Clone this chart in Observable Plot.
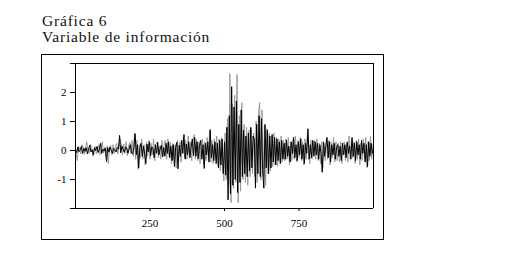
<!DOCTYPE html>
<html>
<head>
<meta charset="utf-8">
<script src="https://cdn.jsdelivr.net/npm/d3@7"></script>
<script src="https://cdn.jsdelivr.net/npm/@observablehq/plot@0.6"></script>
<style>
  html, body { margin: 0; padding: 0; background: #fff; }
  #wrap { position: relative; width: 512px; height: 274px; overflow: hidden; }
  #title { position: absolute; left: 42px; top: 13px; font-family: "Liberation Serif", serif; font-size: 15.5px; letter-spacing: 0.8px; line-height: 16px; color: #111; }
  #outer { position: absolute; left: 41px; top: 54px; width: 341px; height: 184px; border: 1px solid #000; }
  #chart { position: absolute; left: 0; top: 0; }
</style>
</head>
<body>
<div id="wrap">
  <div id="outer"></div>
  <div id="chart"></div>
  <div id="title">Gráfica 6<br>Variable de información</div>
</div>
<script>
// Black series, observations 0,4,8,...,1000
const blackVals = [
  0.05,-0.08,0.12,-0.04,0.02,0.15,-0.1,0.08,-0.03,0.1,-0.12,0.06,0.18,-0.05,0.03,-0.15,0.09,0.0,0.14,-0.07,0.05,0.25,-0.1,0.04,-0.02,
  0.08,-0.38,0.1,-0.06,0.12,0.0,-0.1,0.07,0.03,-0.05,0.1,0.05,0.52,-0.08,0.15,0.03,-0.06,0.12,0.08,-0.1,0.05,0.2,-0.08,-0.12,0.1,
  0.58,-0.15,0.2,-0.6,0.1,0.25,-0.2,0.15,-0.1,-0.45,0.22,-0.05,0.3,-0.18,0.12,0.08,-0.25,0.2,-0.1,0.28,-0.15,0.05,0.18,-0.22,0.1,
  -0.2,0.25,-0.1,0.3,-0.25,0.15,-0.35,0.2,-0.55,0.1,0.28,-0.63,0.18,-0.2,0.35,-0.1,0.55,-0.3,0.22,-0.15,0.3,-0.25,0.12,0.4,-0.18,
  0.45,-0.2,0.3,-0.28,0.15,0.35,-0.3,0.2,-0.62,0.25,-0.15,0.3,-0.4,0.72,-0.25,0.2,-0.35,0.3,-0.45,0.25,-0.6,0.35,-0.5,0.4,-0.8,
  0.3,-0.85,0.8,-1.7,1.2,-1.5,2.2,-1.2,1.5,-1.0,1.7,-1.45,0.9,-1.1,1.4,-0.9,0.7,-0.8,0.5,-0.9,0.6,-0.7,0.8,-0.6,0.5,
  0.4,-1.3,0.9,-0.8,1.2,-0.9,1.1,-0.7,-1.3,0.9,-0.6,0.7,-0.8,0.5,-0.6,0.55,-0.4,0.45,-0.5,0.4,-0.35,0.3,-0.45,0.35,-0.3,
  0.25,-0.3,0.35,-0.2,0.15,-0.4,0.3,-0.1,0.45,-0.25,0.2,-0.35,0.3,-0.15,0.4,-0.3,0.2,-0.45,0.25,-0.1,0.75,-0.3,0.2,-0.25,0.35,
  -0.2,0.3,-0.15,0.25,-0.3,0.2,-0.1,-0.75,0.3,-0.2,0.15,0.45,-0.25,0.3,-0.4,0.2,-0.15,0.25,-0.3,0.1,0.2,-0.2,0.15,-0.35,0.25,
  -0.15,0.2,-0.25,0.3,-0.1,0.15,-0.3,0.45,-0.2,0.25,-0.35,0.3,-0.15,0.2,-0.3,0.35,-0.1,0.25,-0.4,0.2,-0.55,0.3,-0.2,0.25,-0.1,
  0.05
];
// Gray series, observations 2,6,10,...,998
const grayVals = [
  -0.1,-0.35,0.15,0.05,-0.12,0.2,0.08,-0.15,0.12,0.3,-0.05,-0.1,0.22,0.1,-0.2,0.05,0.15,-0.12,0.08,0.2,-0.15,0.1,0.3,-0.08,0.12,
  -0.2,0.15,-0.45,0.1,0.18,-0.15,0.2,-0.1,0.12,0.25,-0.12,0.08,0.4,0.2,-0.15,0.22,-0.1,0.3,-0.18,0.15,0.28,-0.12,0.35,-0.2,0.6,
  -0.3,0.35,-0.65,0.2,-0.25,0.4,-0.3,0.2,-0.5,0.3,-0.2,0.35,-0.3,0.25,-0.15,0.4,-0.35,0.2,0.3,-0.25,0.15,-0.3,0.35,-0.2,0.25,
  0.35,-0.3,0.4,-0.2,0.3,-0.45,0.25,-0.3,0.2,-0.6,0.35,-0.25,0.3,-0.4,0.2,0.45,-0.25,0.35,-0.3,0.5,-0.2,0.3,-0.35,0.25,0.55,
  -0.3,0.4,-0.35,0.3,-0.45,0.25,0.4,-0.5,0.3,-0.35,0.45,-0.3,0.65,-0.4,0.35,-0.45,0.4,-0.3,0.5,-0.55,0.4,-0.7,0.45,-0.6,-1.05,
  0.6,-1.0,1.1,-1.2,2.65,-1.8,1.6,-1.3,1.9,-1.1,2.62,-1.8,1.2,-1.4,1.65,-1.0,0.9,-1.1,0.8,-1.2,0.7,-0.9,0.75,-0.8,0.6,
  -0.9,1.0,-1.1,1.3,1.65,-1.0,1.4,-0.9,0.8,-1.2,0.75,-0.8,0.6,-0.7,0.5,-0.55,0.6,-0.5,0.45,-0.55,0.4,-0.45,0.5,-0.4,0.35,
  -0.35,0.4,-0.3,0.45,-0.5,0.3,-0.35,0.4,-0.3,0.5,-0.4,0.35,-0.25,0.45,-0.35,0.3,-0.5,0.4,-0.3,0.55,0.2,-0.45,0.35,-0.3,0.25,
  0.35,-0.3,0.4,-0.35,0.25,-0.45,0.3,-0.6,0.25,-0.35,0.4,-0.3,0.35,-0.5,0.3,-0.25,0.45,-0.4,0.3,-0.35,0.25,-0.4,0.3,-0.45,0.2,
  0.3,-0.35,0.25,-0.4,0.5,-0.3,0.35,-0.25,0.3,-0.45,0.35,-0.3,0.4,-0.5,0.25,-0.35,0.4,-0.3,0.45,-0.6,0.3,-0.35,0.5,-0.3,0.2
];
const xTicks = [250, 500, 750];
const yTicks = [-1, 0, 1, 2];
const xDomain = [0, 1000];
const yDomain = [-2, 3];

const blackData = blackVals.map((v, i) => ({t: 4 * i, v}));
const grayData = grayVals.map((v, i) => ({t: 2 + 4 * i, v}));

const chart = Plot.plot({
  width: 512,
  height: 274,
  marginLeft: 75,
  marginRight: 139,
  marginTop: 63,
  marginBottom: 66,
  x: {domain: xDomain},
  y: {domain: yDomain},
  style: {fontFamily: "Liberation Serif, serif", fontSize: "11px", color: "#000", background: "transparent"},
  marks: [
    Plot.line(grayData, {x: "t", y: "v", stroke: "#9a9a9a", strokeWidth: 1}),
    Plot.line(blackData, {x: "t", y: "v", stroke: "#000", strokeWidth: 1}),
    Plot.ruleY(yDomain, {y: d => d, x1: () => xDomain[0] - 17, x2: () => xDomain[1], stroke: "#000"}),
    Plot.ruleX(xDomain, {x: d => d, stroke: "#000"}),
    Plot.axisX({ticks: xTicks, tickSize: 3, tickPadding: 8, tickFormat: d => String(d), label: null}),
    Plot.axisY({ticks: yTicks, tickSize: 5, tickPadding: 4, tickFormat: d => String(d), label: null})
  ]
});
document.getElementById("chart").appendChild(chart);
</script>
</body>
</html>
